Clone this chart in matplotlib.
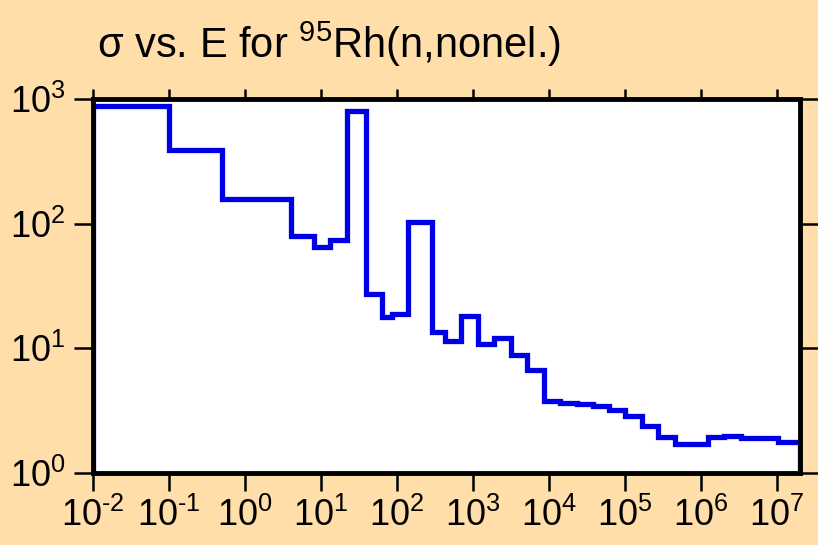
import numpy as np
import matplotlib
matplotlib.use("Agg")
import matplotlib.pyplot as plt
from matplotlib import font_manager

# narrow face for the tick numbers if it is there
try:
    font_manager.findfont('Liberation Sans Narrow', fallback_to_default=False)
    tick_font = 'Liberation Sans Narrow'
except Exception:
    tick_font = 'Liberation Sans'

plt.rcParams['font.family'] = ['Liberation Sans', 'DejaVu Sans']
plt.rcParams['mathtext.fontset'] = 'custom'
plt.rcParams['mathtext.rm'] = tick_font
plt.rcParams['mathtext.it'] = tick_font
plt.rcParams['mathtext.default'] = 'regular'

# bin edges (eV) and cross sections (b)
energy_edges = [0.01, 0.1, 0.5, 4, 8, 13, 22, 39, 64, 87, 141, 284, 427, 703,
                1160, 1900, 3140, 5200, 8670, 1.39e4, 2.3e4, 3.8e4, 6.15e4,
                1.0e5, 1.66e5, 2.75e5, 4.5e5, 1.23e6, 2.03e6, 3.32e6, 1.03e7, 2e7]
sigma = [880, 390, 158, 80, 65, 74.5, 800, 27.5, 17.9, 18.8,
         103, 13.4, 11.5, 18.3, 10.8, 12.1, 8.85, 6.74, 3.77, 3.63,
         3.58, 3.47, 3.22, 2.85, 2.39, 1.96, 1.70, 1.94, 1.98, 1.92, 1.77]

xdecades = list(range(-2, 8))
ydecades = [0, 1, 2, 3]

def label(k):
    if k < 0:
        return r'$10^{\text{-}%d}$' % (-k)
    return '$10^{%d}$' % k

bg = '#FFDEAA'
fig = plt.figure(figsize=(8.18, 5.45), dpi=100, facecolor=bg)
ax = fig.add_axes([93/818, 1 - 473/545, 707/818, 374/545])
ax.set_facecolor('white')

ax.stairs(sigma, energy_edges, baseline=1, color='#0000E6', linewidth=3.8)

ax.set_xscale('log')
ax.set_yscale('log')
ax.set_xlim(1e-2, 2e7)
ax.set_ylim(1, 1000)

ax.set_xticks([10.0**k for k in xdecades])
ax.set_xticklabels([label(k) for k in xdecades])
ax.set_yticks([10.0**k for k in ydecades])
ax.set_yticklabels([label(k) for k in ydecades])
ax.minorticks_off()

ax.tick_params(axis='both', which='major', direction='out', width=1.8,
               labelsize=26, colors='black')
ax.tick_params(axis='x', length=13, pad=5)
ax.tick_params(axis='y', length=14, pad=6)
ax.tick_params(top=True, right=True, labeltop=False, labelright=False)
for t in ax.xaxis.get_major_ticks():
    t.tick2line.set_markersize(7)
for t in ax.yaxis.get_major_ticks():
    t.tick2line.set_markersize(13)

for s in ax.spines.values():
    s.set_linewidth(3.5)
    s.set_color('black')

fig.text(97/818, 1 - 58/545, 'σ vs. E for $^{95}$Rh(n,nonel.)',
         fontsize=30, va='baseline', ha='left',
         family=['Liberation Sans', 'DejaVu Sans'])

fig.savefig('out.png', dpi=100, facecolor=bg)
